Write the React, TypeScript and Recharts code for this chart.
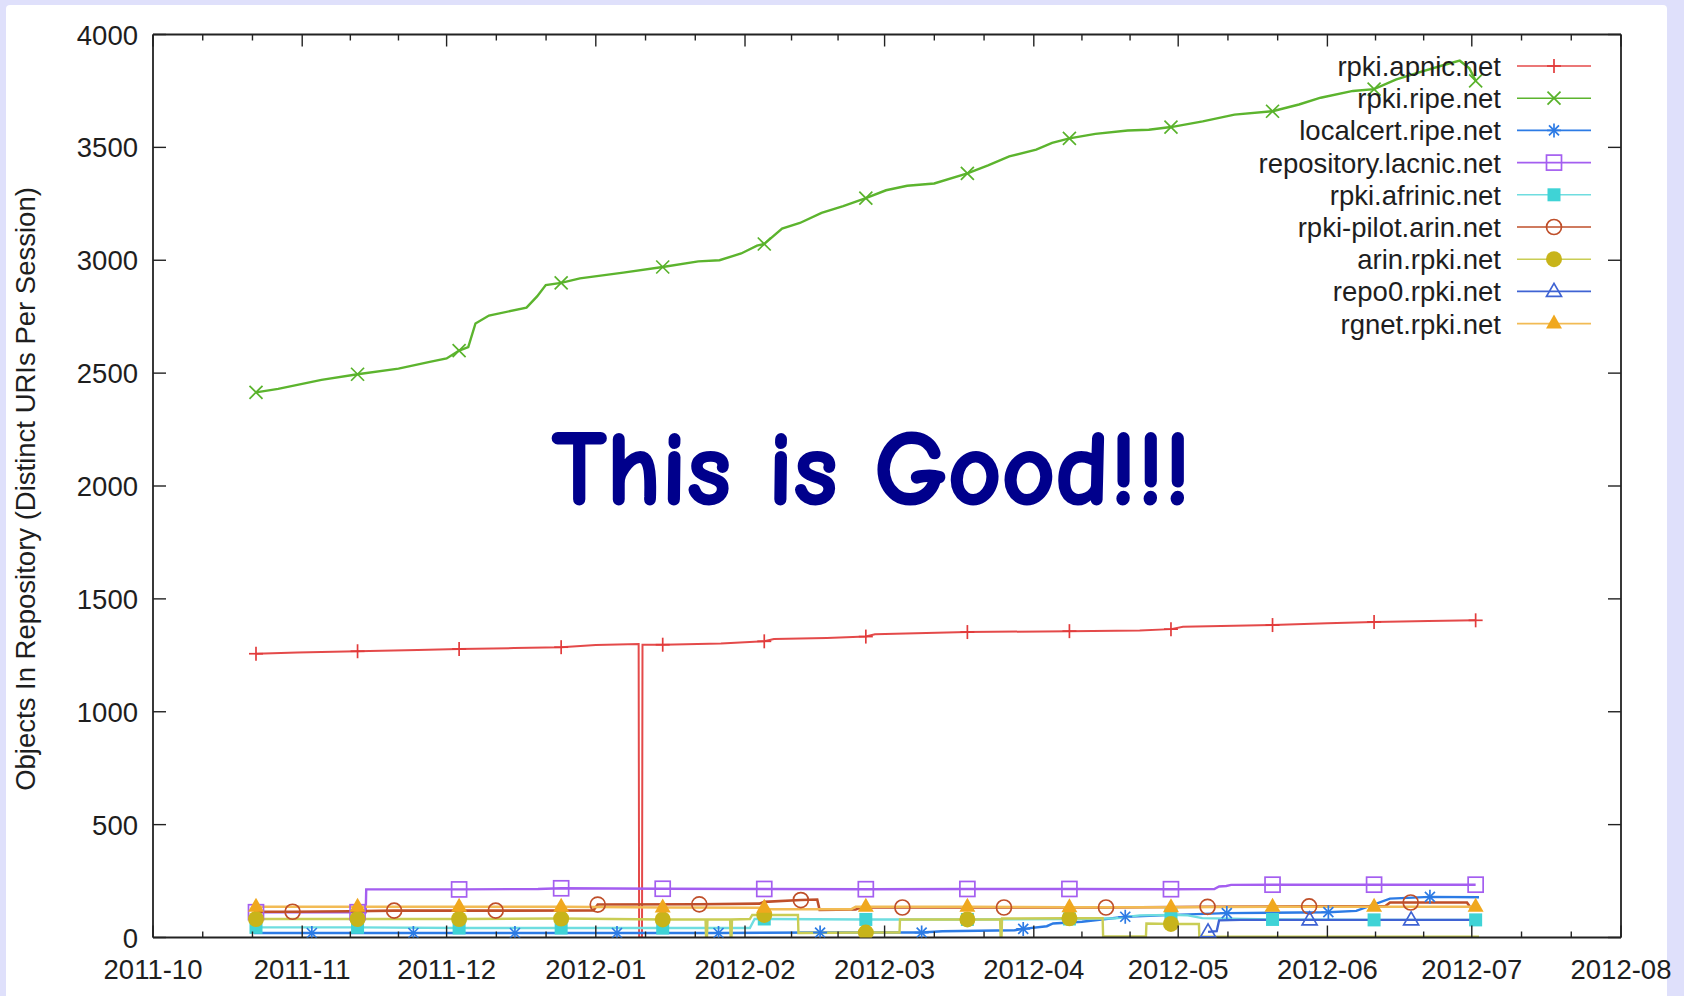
import React from 'react';
import { LineChart, Line, XAxis, YAxis, Legend } from 'recharts';

// ---- axis data ----
const MONTH_DAYS = [0, 31, 61, 92, 123, 152, 183, 213, 244, 274, 305];
const MONTH_LABELS = ['2011-10', '2011-11', '2011-12', '2012-01', '2012-02', '2012-03', '2012-04', '2012-05', '2012-06', '2012-07', '2012-08'];
const Y_TICKS = [0, 500, 1000, 1500, 2000, 2500, 3000, 3500, 4000];
const Y_LABEL = 'Objects In Repository (Distinct URIs Per Session)';
const TITLE = 'This is Good!!!';

// minor ticks: each month split in three (gnuplot mxtics 3)
const MINOR_DAYS: number[] = [];
for (let i = 0; i < MONTH_DAYS.length - 1; i++) {
  const a = MONTH_DAYS[i];
  const len = MONTH_DAYS[i + 1] - a;
  MINOR_DAYS.push(a + len / 3, a + (2 * len) / 3);
}
const X_TICKS = [...MONTH_DAYS, ...MINOR_DAYS].sort((p, q) => p - q);

// ---- series data: [day since 2011-10-01, objects, marker?] ----
type Pt = [number, number, number?];

const apnic: Pt[] = [
  [21.4, 1257, 1], [30, 1262], [42.5, 1268, 1], [55, 1274], [63.6, 1278, 1], [75, 1282], [84.8, 1286, 1],
  [92, 1296], [100.9, 1300], [101.0, 0], [101.6, 0], [101.7, 1297], [105.9, 1297, 1], [118, 1302],
  [127.0, 1312, 1], [129, 1322], [140, 1327], [148.1, 1333, 1], [150, 1343], [169.2, 1353, 1],
  [190.4, 1357, 1], [205, 1360], [211.5, 1366, 1], [214, 1376], [232.6, 1384, 1], [244, 1392],
  [253.7, 1398, 1], [265, 1402], [274.8, 1405, 1],
];

const ripe: Pt[] = [
  [21.4, 2415, 1], [26, 2430], [35, 2470], [42.5, 2495, 1], [51, 2520], [57.5, 2550], [61, 2565],
  [63.6, 2600, 1], [65.5, 2615], [67, 2720], [69.8, 2755], [77.6, 2790], [79.8, 2840], [81.6, 2890],
  [84.8, 2900, 1], [88.7, 2920], [97.7, 2945], [105.9, 2970, 1], [113.3, 2995], [117.7, 3000],
  [122.2, 3030], [125.5, 3065], [127.0, 3072, 1], [130.7, 3140], [134.4, 3165], [138.9, 3210],
  [143.4, 3240], [148.1, 3275, 1], [152.3, 3310], [156.7, 3330], [162.3, 3340], [169.2, 3385, 1],
  [173.5, 3420], [177.9, 3460], [183.5, 3490], [186.8, 3520], [190.4, 3540, 1], [195.8, 3560],
  [202.5, 3575], [206.9, 3578], [211.5, 3590, 1], [218.1, 3615], [224.7, 3645], [232.6, 3660, 1],
  [238.1, 3690], [242.6, 3720], [249.3, 3750], [253.7, 3758, 1], [258.2, 3800], [262.7, 3830],
  [268.2, 3865], [271.5, 3884], [273.5, 3850], [274.8, 3795, 1],
];

const localcert: Pt[] = [
  [21, 20], [33.0, 20, 1], [54.1, 20, 1], [75.2, 20, 1], [96.4, 20, 1], [117.5, 20, 1], [138.6, 22, 1],
  [159.7, 22, 1], [164, 28], [179, 32], [180.8, 38, 1], [185.7, 50], [187, 62], [193, 70], [198, 82],
  [202.0, 92, 1], [212, 100], [223.1, 108, 1], [244.2, 112, 1], [250, 118], [257, 172],
  [265.3, 180, 1], [275.5, 178],
];

const lacnic: Pt[] = [
  [21, 112], [21.4, 112, 1], [42.5, 112, 1], [44.2, 112], [44.3, 213], [63.6, 213, 1], [80, 215],
  [84.8, 218, 1], [105.9, 216, 1], [127.0, 215, 1], [148.1, 214, 1], [169.2, 215, 1], [190.4, 215, 1],
  [211.5, 214, 1], [220.5, 215], [221.5, 226], [223, 228], [224, 233], [232.6, 234, 1],
  [253.7, 234, 1], [274.8, 234, 1],
];

const afrinic: Pt[] = [
  [21, 45], [21.4, 45, 1], [42.5, 45, 1], [63.6, 42, 1], [84.8, 42, 1], [105.9, 42, 1], [124, 42],
  [125, 82], [127.0, 82, 1], [148.1, 80, 1], [169.2, 80, 1], [190.4, 82, 1], [200, 85], [205, 98],
  [211.5, 100, 1], [215, 98], [218, 86], [232.6, 80, 1], [253.7, 78, 1], [274.8, 78, 1],
];

const pilotArin: Pt[] = [
  [21, 114], [29.0, 114, 1], [41, 116], [50.1, 119, 1], [71.2, 119, 1], [91.5, 120], [92.4, 146, 1],
  [113.5, 147, 1], [126, 150], [127, 158], [134.6, 166, 1], [138, 168], [138.5, 122], [146, 124],
  [147, 133], [155.7, 133, 1], [176.8, 133, 1], [198.0, 133, 1], [219.1, 136, 1], [240.2, 138, 1],
  [256, 138], [257, 155], [261.3, 155, 1], [273, 155], [274, 124], [275.5, 124],
];

const arinRpki: Pt[] = [
  [21, 82], [21.4, 82, 1], [42.5, 82, 1], [63.6, 82, 1], [84.8, 84, 1], [105.9, 80, 1], [114.8, 80],
  [114.9, 5], [115.1, 5], [115.2, 80], [119.9, 80], [120.0, 5], [120.2, 5], [120.3, 80], [124, 82],
  [124.5, 100], [127.0, 100, 1], [134, 100], [134.1, 20], [148.1, 22, 1], [155.1, 22], [155.2, 80],
  [169.2, 80, 1], [176, 80], [176.1, 5], [176.3, 5], [176.4, 84], [190.4, 85, 1], [197.3, 85],
  [197.4, 5], [206.3, 5], [206.4, 62], [211.5, 60, 1], [217.3, 60], [217.4, 4], [275.5, 4],
];

const repo0: Pt[] = [
  [219.2, 25, 1], [221, 28], [221.5, 76], [226, 78], [240.3, 78, 1], [261.4, 78, 1], [275.5, 78],
];

const rgnet: Pt[] = [
  [21, 136], [21.4, 136, 1], [42.5, 136, 1], [63.6, 136, 1], [84.8, 136, 1], [105.9, 133, 1],
  [127.0, 132, 1], [128, 125], [145, 125], [146, 136], [148.1, 136, 1], [169.2, 136, 1],
  [190.4, 134, 1], [211.5, 134, 1], [232.6, 136, 1], [253.7, 136, 1], [274.8, 136, 1],
];

const SERIES = [
  { name: 'rpki.apnic.net', data: apnic, color: '#e23b3b', line: '#e44a4a', marker: 'plus', w: 2 },
  { name: 'rpki.ripe.net', data: ripe, color: '#58b22a', line: '#5cb42e', marker: 'cross', w: 2.4 },
  { name: 'localcert.ripe.net', data: localcert, color: '#2c7be5', line: '#2c7be5', marker: 'star', w: 2.4 },
  { name: 'repository.lacnic.net', data: lacnic, color: '#a45ef0', line: '#a45ef0', marker: 'sqOpen', w: 2.4 },
  { name: 'rpki.afrinic.net', data: afrinic, color: '#3fd3d6', line: '#6fdde0', marker: 'sqFill', w: 2.4 },
  { name: 'rpki-pilot.arin.net', data: pilotArin, color: '#bf4f2a', line: '#bf4f2a', marker: 'circOpen', w: 2.6 },
  { name: 'arin.rpki.net', data: arinRpki, color: '#c8b41a', line: '#c9cd55', marker: 'circFill', w: 2.4 },
  { name: 'repo0.rpki.net', data: repo0, color: '#3f63d3', line: '#3f63d3', marker: 'triOpen', w: 2.4 },
  { name: 'rgnet.rpki.net', data: rgnet, color: '#f0a81e', line: '#f2bb55', marker: 'triFill', w: 2.6 },
];

const FONT = "'Liberation Sans', Arial, Helvetica, sans-serif";
const FS = 27.5;
const TXT = '#1e1e1e';
const AX = '#222';

function marker(kind: string, x: number, y: number, c: string) {
  const sw = 1.7;
  switch (kind) {
    case 'plus':
      return (
        <g>
          <line x1={x - 7} x2={x + 7} y1={y} y2={y} stroke={c} strokeWidth={sw} />
          <line x1={x} x2={x} y1={y - 7} y2={y + 7} stroke={c} strokeWidth={sw} />
        </g>
      );
    case 'cross':
      return (
        <g>
          <line x1={x - 6.5} x2={x + 6.5} y1={y - 6.5} y2={y + 6.5} stroke={c} strokeWidth={sw} />
          <line x1={x - 6.5} x2={x + 6.5} y1={y + 6.5} y2={y - 6.5} stroke={c} strokeWidth={sw} />
        </g>
      );
    case 'star':
      return (
        <g>
          <line x1={x - 7} x2={x + 7} y1={y} y2={y} stroke={c} strokeWidth={sw} />
          <line x1={x} x2={x} y1={y - 7} y2={y + 7} stroke={c} strokeWidth={sw} />
          <line x1={x - 5} x2={x + 5} y1={y - 5} y2={y + 5} stroke={c} strokeWidth={sw} />
          <line x1={x - 5} x2={x + 5} y1={y + 5} y2={y - 5} stroke={c} strokeWidth={sw} />
        </g>
      );
    case 'sqOpen':
      return <rect x={x - 7.5} y={y - 7.5} width={15} height={15} fill="none" stroke={c} strokeWidth={sw} />;
    case 'sqFill':
      return <rect x={x - 6.5} y={y - 6.5} width={13} height={13} fill={c} />;
    case 'circOpen':
      return <circle cx={x} cy={y} r={7.5} fill="none" stroke={c} strokeWidth={sw} />;
    case 'circFill':
      return <circle cx={x} cy={y} r={8} fill={c} />;
    case 'triOpen':
      return <polygon points={`${x},${y - 8} ${x - 7.5},${y + 5} ${x + 7.5},${y + 5}`} fill="none" stroke={c} strokeWidth={sw} />;
    case 'triFill':
      return <polygon points={`${x},${y - 9} ${x - 8},${y + 5} ${x + 8},${y + 5}`} fill={c} />;
    default:
      return null;
  }
}

const makeDot = (kind: string, color: string) => (p: any) => {
  const { cx, cy, payload, index } = p;
  if (!payload || !payload.m || cx == null || cy == null) return <g key={`n-${index}`} />;
  return <g key={`m-${index}`}>{marker(kind, cx, cy, color)}</g>;
};

const isMajor = (v: number) => MONTH_DAYS.indexOf(v) >= 0;

const BottomTick = (props: any) => {
  const { x, y, payload } = props;
  const i = MONTH_DAYS.indexOf(payload.value);
  const major = i >= 0;
  return (
    <g>
      <line x1={x} x2={x} y1={y} y2={y - (major ? 12 : 6)} stroke={AX} strokeWidth={1.4} />
      {major && (
        <text x={x} y={y + 41} textAnchor="middle" fontSize={FS} fontFamily={FONT} fill={TXT}>
          {MONTH_LABELS[i]}
        </text>
      )}
    </g>
  );
};

const TopTick = (props: any) => {
  const { x, y, payload } = props;
  const major = isMajor(payload.value);
  return <line x1={x} x2={x} y1={y} y2={y + (major ? 12 : 6)} stroke={AX} strokeWidth={1.4} />;
};

const LeftTick = (props: any) => {
  const { x, y, payload } = props;
  return (
    <g>
      <line x1={x} x2={x + 13} y1={y} y2={y} stroke={AX} strokeWidth={1.4} />
      <text x={x - 15} y={y + 10} textAnchor="end" fontSize={FS} fontFamily={FONT} fill={TXT}>
        {payload.value}
      </text>
    </g>
  );
};

const RightTick = (props: any) => {
  const { x, y } = props;
  return <line x1={x} x2={x - 13} y1={y} y2={y} stroke={AX} strokeWidth={1.4} />;
};

const LegendBox = () => (
  <svg width={620} height={320} style={{ display: 'block', overflow: 'visible' }}>
    {SERIES.map((s, i) => {
      const cy = 21 + i * 32.2;
      return (
        <g key={s.name}>
          <text x={501} y={cy + 10} textAnchor="end" fontSize={FS} fontFamily={FONT} fill={TXT}>
            {s.name}
          </text>
          <line x1={517} x2={591} y1={cy} y2={cy} stroke={s.line} strokeWidth={1.6} />
          {marker(s.marker, 554, cy, s.color)}
        </g>
      );
    })}
  </svg>
);

export default function App() {
  const rows = SERIES.map((s) => ({
    ...s,
    rows: s.data.map(([d, v, m]) => ({ d, v, m: m ? 1 : 0 })),
  }));
  return (
    <div style={{ position: 'absolute', left: 0, top: 0, width: 1684, height: 996, background: '#dfe0fb', overflow: 'hidden' }}>
      <div style={{ position: 'absolute', left: 6, top: 5, width: 1661, height: 1000, background: '#ffffff', borderRadius: 4 }} />
      <div style={{ position: 'absolute', left: 0, top: 0 }}>
        <LineChart width={1684} height={996} margin={{ top: 33.5, right: 62, bottom: 18.5, left: 92 }}>
          <XAxis
            xAxisId="b"
            dataKey="d"
            type="number"
            domain={[0, 305]}
            ticks={X_TICKS}
            interval={0}
            tickSize={0}
            tickMargin={0}
            tickLine={false}
            height={40}
            axisLine={{ stroke: AX, strokeWidth: 1.8 }}
            tick={<BottomTick />}
            allowDataOverflow
          />
          <XAxis
            xAxisId="t"
            orientation="top"
            dataKey="d"
            type="number"
            domain={[0, 305]}
            ticks={X_TICKS}
            interval={0}
            tickSize={0}
            tickMargin={0}
            tickLine={false}
            height={1}
            axisLine={{ stroke: AX, strokeWidth: 1.8 }}
            tick={<TopTick />}
            allowDataOverflow
          />
          <YAxis
            yAxisId="l"
            type="number"
            domain={[0, 4000]}
            ticks={Y_TICKS}
            interval={0}
            width={61}
            tickSize={0}
            tickMargin={0}
            tickLine={false}
            axisLine={{ stroke: AX, strokeWidth: 1.8 }}
            tick={<LeftTick />}
            allowDataOverflow
          />
          <YAxis
            yAxisId="r"
            orientation="right"
            type="number"
            domain={[0, 4000]}
            ticks={Y_TICKS}
            interval={0}
            width={1}
            tickSize={0}
            tickMargin={0}
            tickLine={false}
            axisLine={{ stroke: AX, strokeWidth: 1.8 }}
            tick={<RightTick />}
            allowDataOverflow
          />
          {rows.map((s) => (
            <Line
              key={s.name}
              name={s.name}
              data={s.rows}
              dataKey="v"
              xAxisId="b"
              yAxisId="l"
              type="linear"
              stroke={s.line}
              strokeWidth={s.w}
              dot={makeDot(s.marker, s.color)}
              activeDot={false}
              isAnimationActive={false}
            />
          ))}
          <Legend
            layout="vertical"
            align="center"
            verticalAlign="middle"
            width={620}
            height={320}
            wrapperStyle={{ left: 1000, top: 45, width: 620, height: 320 }}
            content={<LegendBox />}
          />
        </LineChart>
      </div>
      <svg width={1684} height={996} style={{ position: 'absolute', left: 0, top: 0, pointerEvents: 'none' }}>
        <text
          transform="translate(35,489) rotate(-90)"
          textAnchor="middle"
          fontSize={FS}
          fontFamily={FONT}
          fill={TXT}
        >
          {Y_LABEL}
        </text>
        <text
          x={552}
          y={504}
          textLength={639}
          lengthAdjust="spacingAndGlyphs"
          fontSize={106}
          fontWeight={700}
          fontFamily="'Comic Sans MS', 'Comic Neue', 'Noto Sans', sans-serif"
          fill="#00008c"
          stroke="#00008c"
          strokeWidth={2}
          strokeLinejoin="round"
        >
          {TITLE}
        </text>
      </svg>
    </div>
  );
}
